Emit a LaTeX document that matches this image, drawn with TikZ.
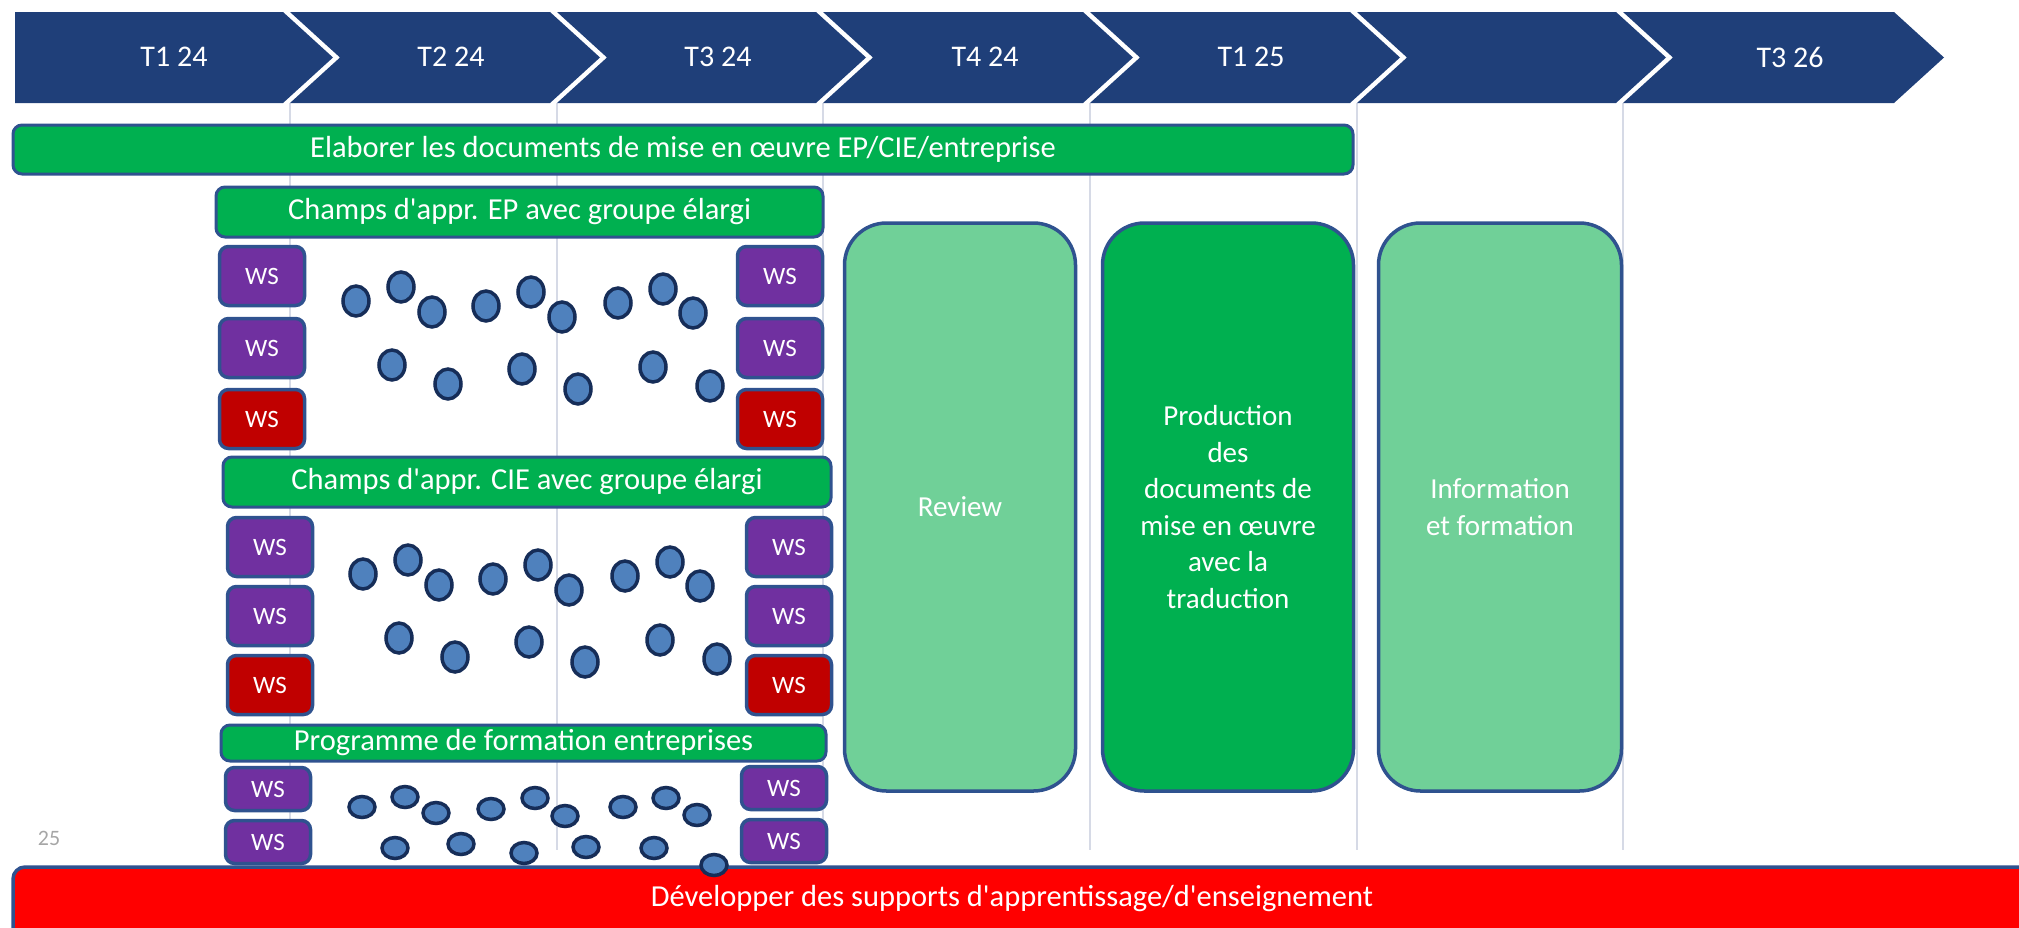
\documentclass[tikz,border=0pt]{standalone}
\usepackage{fontspec}
\setmainfont{Carlito}
\usetikzlibrary{shapes.geometric}

\definecolor{navy}{RGB}{31,63,121}
\definecolor{edge}{RGB}{47,82,143}
\definecolor{leaf}{RGB}{0,176,80}
\definecolor{mint}{RGB}{112,208,152}
\definecolor{plum}{RGB}{112,48,160}
\definecolor{wine}{RGB}{192,0,0}
\definecolor{alarm}{RGB}{255,0,0}
\definecolor{dotfill}{RGB}{79,129,189}
\definecolor{dotedge}{RGB}{22,45,88}
\definecolor{guide}{RGB}{214,218,230}

\newcommand{\apo}{\textquotesingle}

\begin{document}
\begin{tikzpicture}[x=1pt, y=-1pt,
    phase/.style={text=white, font=\fontsize{30}{34}\selectfont},
    bar/.style={draw=edge, fill=leaf, line width=3, rounded corners=9,
        text=white, inner sep=0, font=\fontsize{30.5}{34}\selectfont},
    ws/.style={draw=edge, line width=3.5, rounded corners=9, text=white,
        minimum width=85, minimum height=59, inner sep=0,
        font=\fontsize{25}{28}\selectfont},
    stage/.style={draw=edge, line width=3.5, rounded corners=42, text=white,
        minimum height=568, align=center, font=\fontsize{29}{36.5}\selectfont},
    dot/.style={ellipse, draw=dotedge, fill=dotfill, line width=3.5,
        inner sep=0, minimum width=26, minimum height=30},
]

\useasboundingbox (0,0) rectangle (2019,927);

% quarter guides
\foreach \x in {290,557,823,1090,1357,1623}
    \draw[guide, line width=1.5] (\x,103) -- (\x,850);

% timeline chevrons
\fill[navy] (15,12) -- (283,12) -- (333,57.5) -- (283,103) -- (15,103) -- cycle;
\foreach \l/\r in {333/600,600/866,866/1133,1133/1400,1400/1666,1666/1944}
    \fill[navy] (\l-43,12) -- (\r-50,12) -- (\r,57.5) -- (\r-50,103)
        -- (\l-43,103) -- (\l+7,57.5) -- cycle;

\foreach \n/\lab/\x in {q1/T1 24/174,q2/T2 24/451,q3/T3 24/718,
                        q4/T4 24/985,q5/T1 25/1251,q7/T3 26/1790}
    \node[phase] (\n) at (\x,57) {\lab};

% bottom bar, cut by the page edge
\begin{scope}
\clip (0,0) rectangle (2019,927);
\draw[edge, fill=alarm, line width=3.5, rounded corners=12]
    (13,867) rectangle (2060,960);
\end{scope}
\node[text=white, font=\fontsize{30.5}{34}\selectfont] (dev) at (1012,899)
    {Développer des supports d\apo apprentissage/d\apo enseignement};

\node[text=gray!70, font=\fontsize{22}{26}\selectfont] (page) at (49,838) {25};

% work packages
\node[bar, minimum width=1340, minimum height=49] (elab) at (683,149.5)
    {Elaborer les documents de mise en œuvre EP/CIE/entreprise};
\node[bar, minimum width=607, minimum height=50] (ep) at (519.5,212)
    {Champs d\apo appr. EP avec groupe élargi};
\node[bar, minimum width=608, minimum height=50] (cie) at (527,482)
    {Champs d\apo appr. CIE avec groupe élargi};
\node[bar, minimum width=605, minimum height=36] (prog) at (523.5,743)
    {Programme de formation entreprises};

% workshops
\foreach \n/\x/\y/\c in {epa/262/276/plum,epb/262/348/plum,epc/262/419/wine,
                         epd/780/276/plum,epe/780/348/plum,epf/780/419/wine,
                         cia/270/547/plum,cib/270/616/plum,cic/270/685/wine,
                         cid/789/547/plum,cie/789/616/plum,cif/789/685/wine}
    \node[ws, fill=\c] (\n) at (\x,\y) {WS};
\foreach \n/\x/\y in {pra/268/789,prb/268/842,prc/784/788,prd/784/841}
    \node[ws, fill=plum, minimum height=43] (\n) at (\x,\y) {WS};

% participants
\foreach \x/\y [count=\i] in {356/301,401/287,432/312,486/306,531/292,562/317,
                              618/303,663/289,693/313,392/365,448/384,522/369,
                              578/389,653/367,710/386} {
    \node[dot] (e\i) at (\x,\y) {};
    \node[dot] (c\i) at (\x+7,\y+273) {};
}
\foreach \x/\y [count=\i] in {362/807,405/797,436/813,491/809,535/798,565/816,
                              623/807,666/798,697/815,395/848,461/844,524/853,
                              586/847,654/848,714/865}
    \node[dot, minimum height=21] (p\i) at (\x,\y) {};

% later stages
\node[stage, fill=mint, minimum width=231] (review) at (960,507) {Review};
\node[stage, fill=leaf, minimum width=251] (prod) at (1228,507)
    {Production\\des\\documents de\\mise en œuvre\\avec la\\traduction};
\node[stage, fill=mint, minimum width=243] (info) at (1500,507)
    {Information\\et formation};
\end{tikzpicture}
\end{document}
